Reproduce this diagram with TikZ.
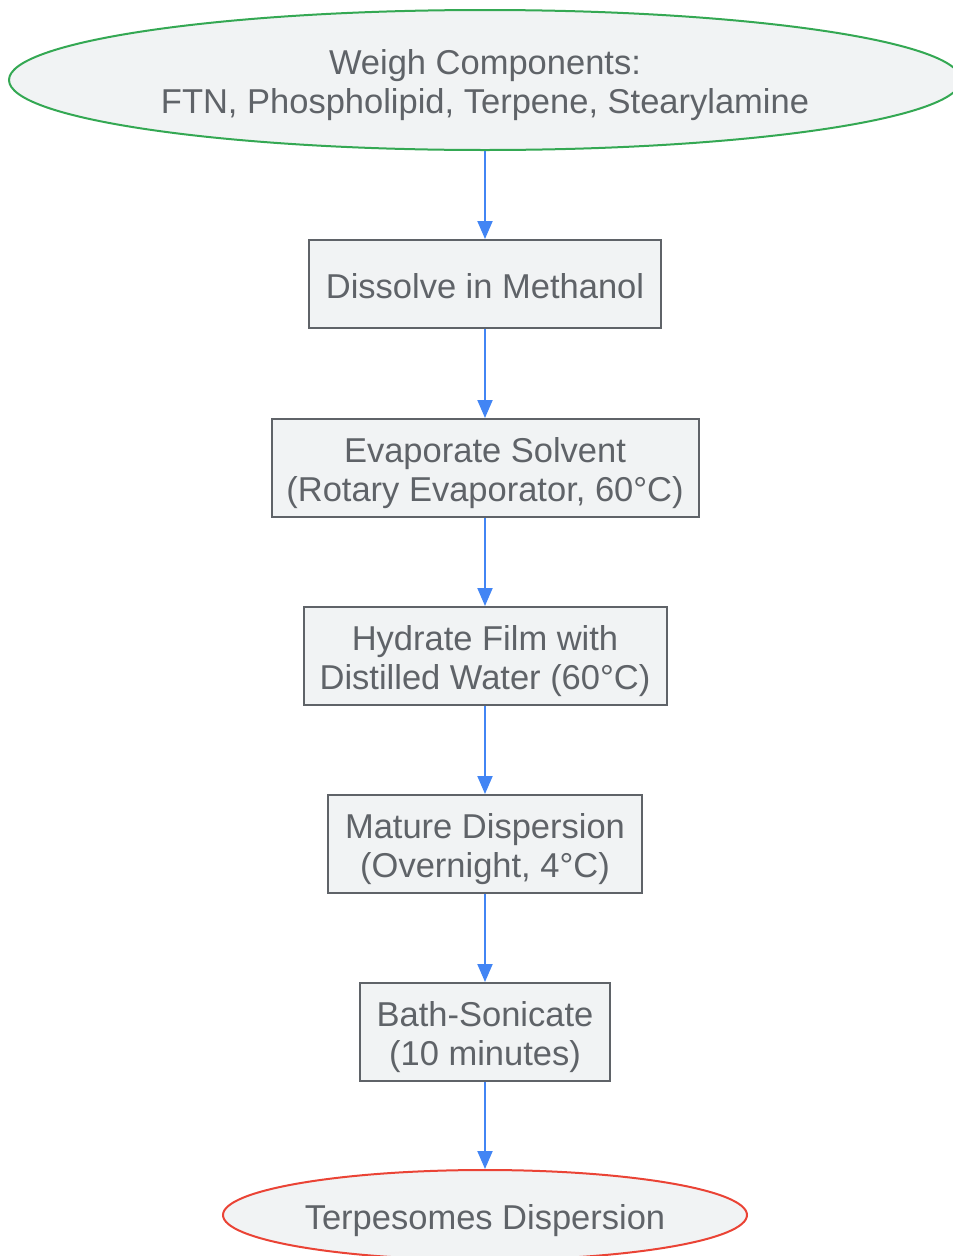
\documentclass[tikz,border=0pt]{standalone}
\usepackage{fontspec}
\setmainfont{Liberation Sans}
\usetikzlibrary{shapes.geometric,arrows.meta}
\definecolor{txt}{HTML}{5F6368}
\definecolor{fillc}{HTML}{F1F3F4}
\definecolor{edge}{HTML}{5F6368}
\definecolor{arr}{HTML}{4285F4}
\definecolor{startc}{HTML}{34A853}
\definecolor{endc}{HTML}{EA4335}
\tikzset{
  lbl/.style={text=txt, inner sep=0pt, align=center,
    font=\fontsize{34.5}{39}\selectfont},
  base/.style={fill=fillc, line width=2pt, inner sep=0pt},
  procbox/.style={base, draw=edge, rectangle},
  startnode/.style={base, draw=startc, ellipse},
  endnode/.style={base, draw=endc, ellipse},
  flow/.style={draw=arr, line width=2pt, -{Triangle[length=18pt,width=15pt]}}
}
\begin{document}
\begin{tikzpicture}[x=1pt,y=-1pt]
\useasboundingbox (0,0) rectangle (953,1256);
\node[startnode, minimum width=952pt, minimum height=140pt,
  label={[lbl,yshift=-5pt]center:{Weigh Components:\\FTN, Phospholipid, Terpene, Stearylamine}}] (s) at (485,80) {};
\node[procbox, minimum width=352pt, minimum height=88pt,
  label={[lbl,yshift=-2pt]center:{Dissolve in Methanol}}] (a) at (485,284) {};
\node[procbox, minimum width=427pt, minimum height=98pt,
  label={[lbl,yshift=-5pt]center:{Evaporate Solvent\\(Rotary Evaporator, 60°C)}}] (b) at (485,468) {};
\node[procbox, minimum width=363pt, minimum height=98pt,
  label={[lbl,yshift=-5pt]center:{Hydrate Film with\\Distilled Water (60°C)}}] (c) at (485,656) {};
\node[procbox, minimum width=314pt, minimum height=98pt,
  label={[lbl,yshift=-5pt]center:{Mature Dispersion\\(Overnight, 4°C)}}] (d) at (485,844) {};
\node[procbox, minimum width=250pt, minimum height=98pt,
  label={[lbl,yshift=-5pt]center:{Bath-Sonicate\\(10 minutes)}}] (e) at (485,1032) {};
\node[endnode, minimum width=524pt, minimum height=90pt,
  label={[lbl,yshift=-6pt]center:{Terpesomes Dispersion}}] (f) at (485,1215) {};
\draw[flow] (s) -- (a);
\draw[flow] (a) -- (b);
\draw[flow] (b) -- (c);
\draw[flow] (c) -- (d);
\draw[flow] (d) -- (e);
\draw[flow] (e) -- (f);
\end{tikzpicture}
\end{document}
